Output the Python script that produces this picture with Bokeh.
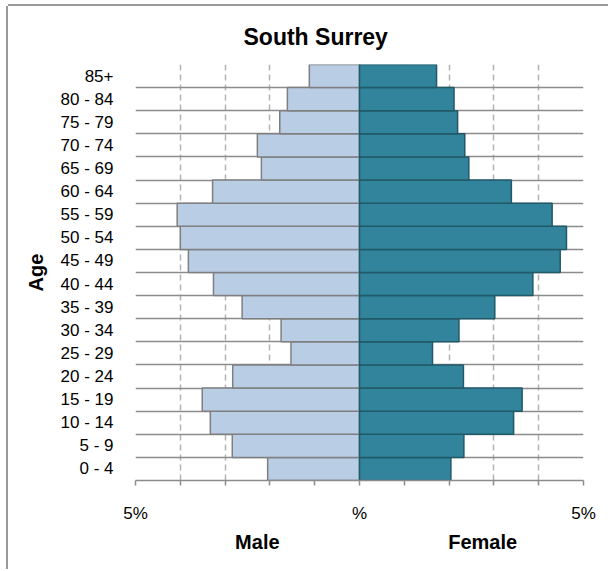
from bokeh.plotting import figure
from bokeh.models import Range1d, FixedTicker, LinearAxis, Title
from bokeh.embed import file_html
from bokeh.resources import INLINE

# ---- data ----
age_groups = ["0 - 4", "5 - 9", "10 - 14", "15 - 19", "20 - 24", "25 - 29",
              "30 - 34", "35 - 39", "40 - 44", "45 - 49", "50 - 54", "55 - 59",
              "60 - 64", "65 - 69", "70 - 74", "75 - 79", "80 - 84", "85+"]
male_pct = [2.05, 2.84, 3.33, 3.51, 2.83, 1.53, 1.75, 2.62, 3.26, 3.82,
            4.00, 4.07, 3.28, 2.19, 2.28, 1.78, 1.61, 1.12]
female_pct = [2.04, 2.33, 3.44, 3.63, 2.32, 1.63, 2.22, 3.02, 3.87, 4.48,
              4.62, 4.30, 3.39, 2.44, 2.35, 2.19, 2.11, 1.72]
x_ticks = list(range(-5, 6))
x_tick_labels = {-5: "5%", 0: "%", 5: "5%"}
title_text = "South Surrey"
y_title = "Age"
side_labels = ["Male", "Female"]
side_label_pos = [-2.28, 2.75]

FONT = "Liberation Sans"

p = figure(width=600, height=563, output_backend="svg", toolbar_location=None,
           x_range=Range1d(-5, 5), y_range=Range1d(-0.5, len(age_groups) - 0.5),
           min_border_left=127, min_border_right=25, min_border_top=58,
           min_border_bottom=89)
p.styles = {"margin-left": "8px", "margin-top": "6px",
            "box-shadow": "-2px 0 0 0 #999999, 0 -2px 0 0 #999999"}
p.outline_line_color = None
p.background_fill_color = "white"
p.border_fill_color = "white"

ypos = list(range(len(age_groups)))
p.hbar(y=ypos, left=[-v for v in male_pct], right=0, height=1,
       fill_color="#B9CDE5", line_color="#7F7F7F", line_width=1.5)
p.hbar(y=ypos, left=0, right=female_pct, height=1,
       fill_color="#31849B", line_color="#215968", line_width=1.5)

# grids
p.xgrid.ticker = FixedTicker(ticks=x_ticks)
p.xgrid.grid_line_color = "#B3B3B3"
p.xgrid.grid_line_width = 1.5
p.xgrid.grid_line_dash = "6 4"
p.ygrid.ticker = FixedTicker(ticks=[i - 0.5 for i in range(len(age_groups) + 1)])
p.ygrid.grid_line_color = "#8C8C8C"
p.ygrid.grid_line_width = 1.5

# x axis
xa = p.xaxis[0]
xa.ticker = FixedTicker(ticks=x_ticks)
xa.major_label_overrides = {t: x_tick_labels.get(t, "") for t in x_ticks}
xa.axis_line_color = "#8C8C8C"
xa.axis_line_width = 1.5
xa.major_tick_line_color = "#8C8C8C"
xa.major_tick_line_width = 1.5
xa.major_tick_in = 0
xa.major_tick_out = 5
xa.minor_tick_line_color = None
xa.major_label_standoff = 18
xa.major_label_text_font = FONT
xa.major_label_text_font_size = "17px"
xa.major_label_text_color = "black"

# second axis carrying Male / Female
xa2 = LinearAxis(ticker=FixedTicker(ticks=side_label_pos),
                 major_label_overrides={v: t for v, t in zip(side_label_pos, side_labels)})
xa2.axis_line_color = None
xa2.major_tick_line_color = None
xa2.minor_tick_line_color = None
xa2.major_tick_in = 0
xa2.major_tick_out = 0
xa2.major_label_standoff = 5
xa2.major_label_text_font = FONT
xa2.major_label_text_font_style = "bold"
xa2.major_label_text_font_size = "20px"
xa2.major_label_text_color = "black"
p.add_layout(xa2, "below")

# y axis
ya = p.yaxis[0]
ya.ticker = FixedTicker(ticks=ypos)
ya.major_label_overrides = {i: g for i, g in enumerate(age_groups)}
ya.axis_line_color = None
ya.major_tick_line_color = None
ya.minor_tick_line_color = None
ya.major_tick_in = 0
ya.major_tick_out = 0
ya.major_label_standoff = 22
ya.major_label_text_font = FONT
ya.major_label_text_font_size = "17px"
ya.major_label_text_color = "black"
ya.axis_label = y_title
ya.axis_label_text_font = FONT
ya.axis_label_text_font_style = "bold"
ya.axis_label_text_font_size = "20px"
ya.axis_label_text_color = "black"
ya.axis_label_standoff = 11

# title
p.title = Title(text=title_text, align="left", offset=108, standoff=30,
                text_line_height=1.0,
                text_font=FONT, text_font_style="bold", text_font_size="23px",
                text_color="black")

open("out.html", "w").write(file_html(p, INLINE))
